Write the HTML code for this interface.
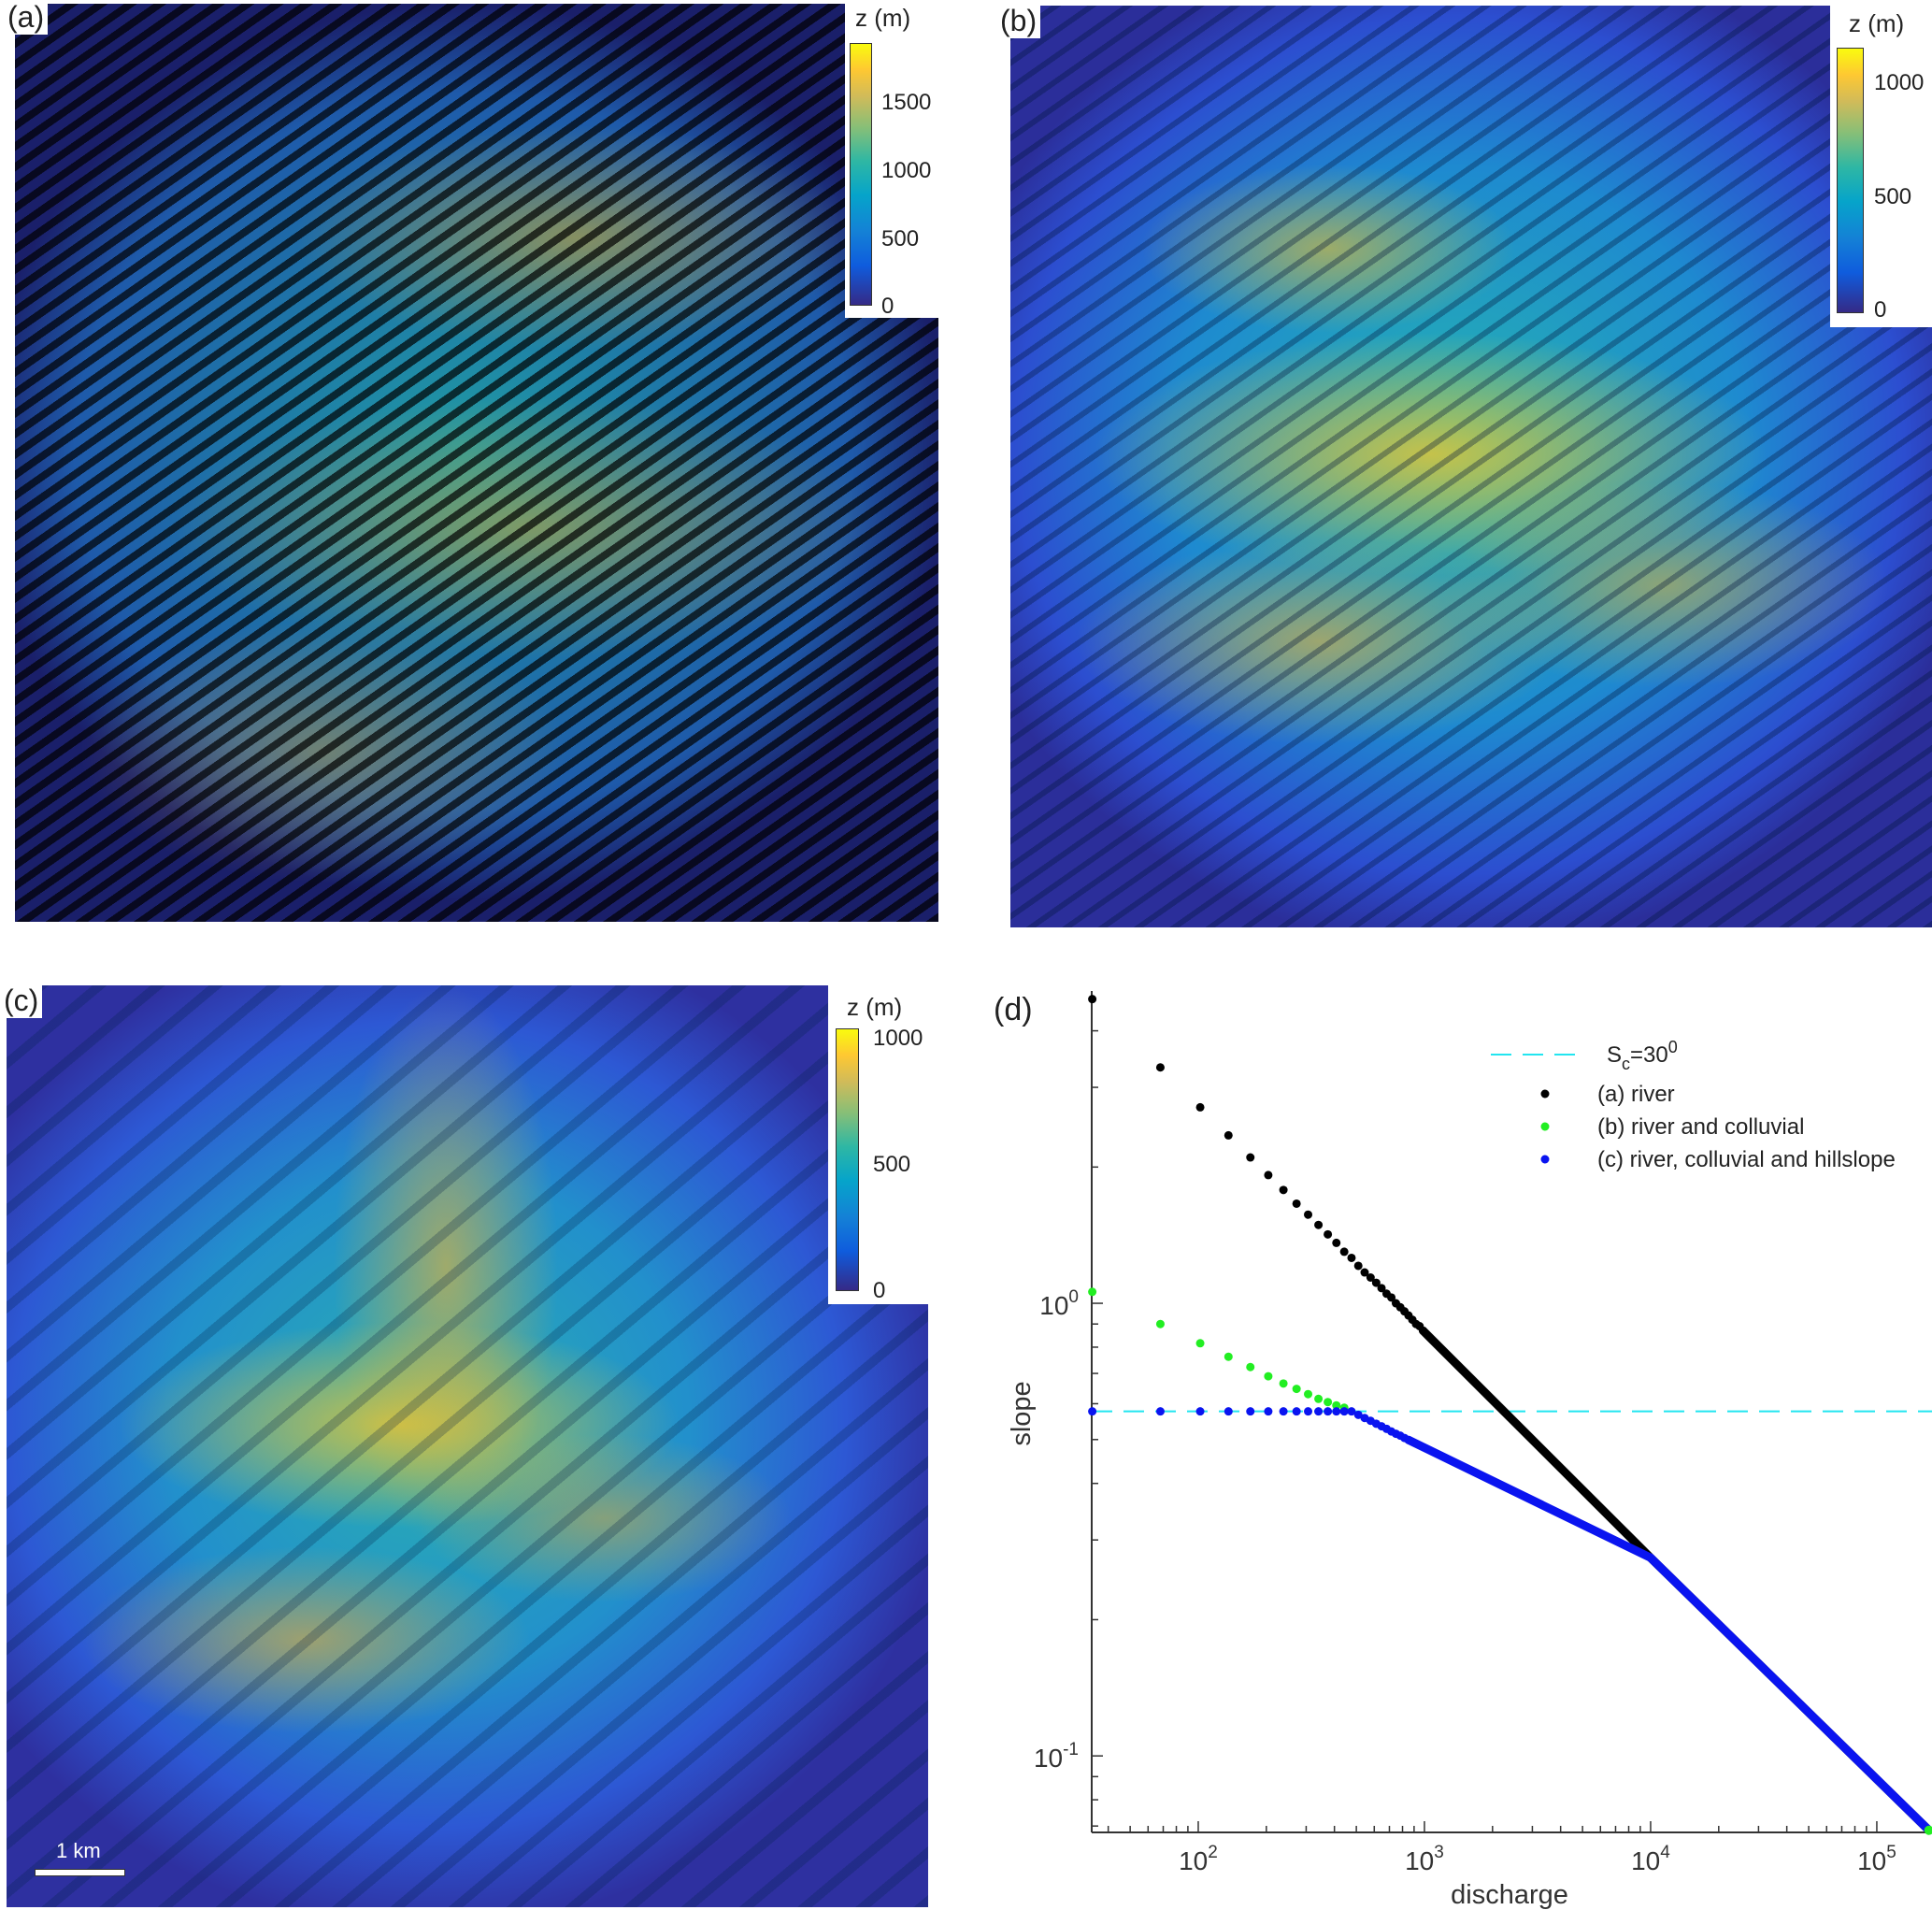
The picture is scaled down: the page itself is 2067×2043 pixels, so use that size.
<!DOCTYPE html>
<html><head><meta charset="utf-8">
<style>
html,body{margin:0;padding:0;background:#fff;}
body{width:2067px;height:2043px;position:relative;overflow:hidden;font-family:"Liberation Sans",Arial,sans-serif;}
.map{position:absolute;}
.cbox{position:absolute;background:#fff;}
.cbar{position:absolute;background:linear-gradient(to top,#352a87 0%,#0f5cdd 15%,#1481d6 28%,#06a4ca 42%,#2eb7a4 55%,#87bf77 68%,#d1bb59 80%,#fec832 90%,#f9fb0e 100%);border:1px solid #333;box-sizing:border-box;}
.lbl{position:absolute;font-size:24px;color:#222;}
.plab{position:absolute;background:#fff;font-size:32px;color:#222;padding:0 4px;}
</style></head><body>

<!-- Panel a -->
<div class="map" style="left:16px;top:4px;width:988px;height:982px;
background:
repeating-linear-gradient(-35deg,rgba(0,0,0,0.7) 0 8px,rgba(0,0,0,0) 8px 18px),
radial-gradient(ellipse 300px 120px at 600px 250px,rgba(220,170,40,0.55),rgba(0,0,0,0)),
radial-gradient(ellipse 380px 140px at 550px 560px,rgba(220,170,40,0.5),rgba(0,0,0,0)),
radial-gradient(ellipse 260px 140px at 330px 800px,rgba(210,170,50,0.45),rgba(0,0,0,0)),
radial-gradient(ellipse 520px 480px at 480px 480px,#1f9aa4,#1e5aaa 80%,#1a1f6a);"></div>
<div class="cbox" style="left:904px;top:0;width:100px;height:340px;"></div>
<div class="cbar" style="left:909px;top:46px;width:24px;height:281px;"></div>
<div class="lbl" style="left:915px;top:4px;font-size:26px;">z (m)</div>
<div class="lbl" style="left:943px;top:96px;">1500</div>
<div class="lbl" style="left:943px;top:169px;">1000</div>
<div class="lbl" style="left:943px;top:242px;">500</div>
<div class="lbl" style="left:943px;top:314px;">0</div>
<div class="plab" style="left:4px;top:0;">(a)</div>

<!-- Panel b -->
<div class="map" style="left:1081px;top:6px;width:986px;height:986px;
background:
repeating-linear-gradient(-35deg,rgba(0,20,60,0.35) 0 6px,rgba(0,0,0,0) 6px 22px),
radial-gradient(ellipse 200px 90px at 340px 260px,rgba(240,190,40,0.6),rgba(0,0,0,0)),
radial-gradient(ellipse 360px 130px at 450px 480px,rgba(250,200,40,0.75),rgba(0,0,0,0)),
radial-gradient(ellipse 260px 110px at 330px 680px,rgba(240,180,50,0.6),rgba(0,0,0,0)),
radial-gradient(ellipse 240px 110px at 700px 620px,rgba(230,180,50,0.55),rgba(0,0,0,0)),
radial-gradient(ellipse 560px 540px at 480px 470px,#25b4b0,#1e8ad0 55%,#2c4ed0 85%,#2b2e9a);"></div>
<div class="cbox" style="left:1958px;top:0;width:109px;height:350px;"></div>
<div class="cbar" style="left:1965px;top:51px;width:29px;height:284px;"></div>
<div class="lbl" style="left:1978px;top:10px;font-size:26px;">z (m)</div>
<div class="lbl" style="left:2005px;top:75px;">1000</div>
<div class="lbl" style="left:2005px;top:197px;">500</div>
<div class="lbl" style="left:2005px;top:318px;">0</div>
<div class="plab" style="left:1066px;top:4px;">(b)</div>

<!-- Panel c -->
<div class="map" style="left:7px;top:1054px;width:986px;height:986px;
background:
repeating-linear-gradient(-40deg,rgba(0,30,70,0.25) 0 10px,rgba(0,0,0,0) 10px 40px),
radial-gradient(ellipse 120px 300px at 470px 300px,rgba(240,180,50,0.6),rgba(0,0,0,0)),
radial-gradient(ellipse 300px 110px at 420px 470px,rgba(250,200,40,0.75),rgba(0,0,0,0)),
radial-gradient(ellipse 240px 100px at 320px 700px,rgba(240,170,50,0.6),rgba(0,0,0,0)),
radial-gradient(ellipse 200px 90px at 640px 570px,rgba(230,170,50,0.5),rgba(0,0,0,0)),
radial-gradient(ellipse 560px 540px at 450px 470px,#2ab0b0,#2290cc 50%,#2d58d4 80%,#2e30a0);"></div>
<div class="cbox" style="left:886px;top:1054px;width:107px;height:341px;"></div>
<div class="cbar" style="left:894px;top:1100px;width:25px;height:281px;"></div>
<div class="lbl" style="left:906px;top:1062px;font-size:26px;">z (m)</div>
<div class="lbl" style="left:934px;top:1097px;">1000</div>
<div class="lbl" style="left:934px;top:1232px;">500</div>
<div class="lbl" style="left:934px;top:1367px;">0</div>
<div class="plab" style="left:0;top:1052px;">(c)</div>
<div style="position:absolute;left:37px;top:1999px;width:97px;height:8px;background:#fff;border:1px solid #333;box-sizing:border-box;"></div>
<div class="lbl" style="left:60px;top:1967px;color:#fff;font-size:22px;">1 km</div>

<!-- Panel d -->
<svg id="chartd" style="position:absolute;left:0;top:0;" width="2067" height="2043"></svg>

<script>
const qBlack=[34,68,102,136,170,204,238,272,306,340,374,408,442,476,510,544,578,612,646,680,714,748,782,816,850,884,918,952,986];
const sBlack=[4.70,3.32,2.71,2.35,2.10,1.92,1.78,1.66,1.57,1.49,1.42,1.36,1.30,1.26,1.21,1.17,1.14,1.11,1.08,1.05,1.03,1.00,0.98,0.96,0.94,0.92,0.90,0.89,0.87];
const qBlackLine=[986,10000,170000];
const sBlackLine=[0.87,0.274,0.0685];
const qGreen=[34,68,102,136,170,204,238,272,306,340,374,408,442];
const sGreen=[1.06,0.90,0.816,0.762,0.723,0.69,0.665,0.647,0.63,0.615,0.605,0.595,0.588];
const qBlue=[34,68,102,136,170,204,238,272,306,340,374,408,442,476,510,544,578,612,646,680,714,748,782,816,850];
const sBlue=[0.577,0.577,0.577,0.577,0.577,0.577,0.577,0.577,0.577,0.577,0.577,0.577,0.577,0.577,0.567,0.558,0.550,0.542,0.535,0.528,0.521,0.515,0.510,0.504,0.499];
const qBlueLine=[850,10000,170000];
const sBlueLine=[0.499,0.274,0.0685];
const sCritical=0.577;
const xTickExp=[2,3,4,5];
const yTickExp=[0,-1];

const X0=1168,X1=2067,Y0=1060,Y1=1960;
const xMinL=1.529,xMaxL=5.244,yMinL=-1.169,yMaxL=0.69;
const xs=q=>X0+(Math.log10(q)-xMinL)/(xMaxL-xMinL)*(X1-X0);
const ys=s=>Y1-(Math.log10(s)-yMinL)/(yMaxL-yMinL)*(Y1-Y0);
const NS='http://www.w3.org/2000/svg';
const svg=document.getElementById('chartd');
function mk(tag,attrs,parent){const e=document.createElementNS(NS,tag);for(const k in attrs)e.setAttribute(k,attrs[k]);(parent||svg).appendChild(e);return e;}

let ax=mk('line',{x1:X0,y1:Y0,x2:X0,y2:Y1,stroke:'#333','stroke-width':2});


let bx=mk('line',{x1:X0,y1:Y1,x2:X1,y2:Y1,stroke:'#333','stroke-width':2});



for(let e=1;e<=5;e++){for(let m=1;m<10;m++){const q=m*Math.pow(10,e);const x=xs(q);if(x<X0||x>X1)continue;
 const t=mk('line',{x1:x,y1:Y1,x2:x,y2:Y1-(m==1?12:7),stroke:'#333','stroke-width':1.5});
 
 }}
xTickExp.forEach(e=>{const x=xs(Math.pow(10,e));
 const t=mk('text',{x:x,y:Y1+40,'text-anchor':'middle','font-size':28,fill:'#333'});
 
 
 t.innerHTML='10<tspan dy="-13" font-size="19">'+e+'</tspan>';});
for(let e=-2;e<=0;e++){for(let m=1;m<10;m++){const s=m*Math.pow(10,e);const y=ys(s);if(y<Y0||y>Y1)continue;
 const t=mk('line',{x1:X0,y1:y,x2:X0+(m==1?12:7),y2:y,stroke:'#333','stroke-width':1.5});
 
 }}
yTickExp.forEach(e=>{const y=ys(Math.pow(10,e));
 const t=mk('text',{x:X0-14,y:y+12,'text-anchor':'end','font-size':28,fill:'#333'});
 
 
 t.innerHTML='10<tspan dy="-13" font-size="19">'+e+'</tspan>';});

let xl=mk('text',{x:1615,y:2036,'text-anchor':'middle','font-size':29,fill:'#333'});xl.textContent='discharge';


let yl=mk('text',{x:1102,y:1512,'text-anchor':'middle','font-size':29,fill:'#333',transform:'rotate(-90 1102 1512)'});yl.textContent='slope';


let pl=mk('text',{x:1063,y:1091,'font-size':34,fill:'#222'});pl.textContent='(d)';



let cl=mk('line',{x1:X0,y1:ys(sCritical),x2:X1,y2:ys(sCritical),stroke:'#22e5f0','stroke-width':2,'stroke-dasharray':'22,12'});



function line(qa,sa,col,name){const p=mk('polyline',{points:qa.map((q,i)=>xs(q)+','+ys(sa[i])).join(' '),fill:'none',stroke:col,'stroke-width':9,'stroke-linecap':'round'});
 
 }
function dots(qa,sa,col,name){qa.forEach((q,i)=>{const c=mk('circle',{cx:xs(q),cy:ys(sa[i]),r:4.5,fill:col});
 
 });}
line(qBlackLine,sBlackLine,'#000','river-series-line');
dots(qBlack,sBlack,'#000','river-point');
dots(qGreen,sGreen,'#22ee22','colluvial-point');
line(qBlueLine,sBlueLine,'#0a14f0','hillslope-series-line');
dots(qBlue,sBlue,'#0a14f0','hillslope-point');
let gEnd=mk('circle',{cx:xs(170000),cy:ys(0.0685),r:5,fill:'#22ee22'});



let lg=mk('g',{});


mk('line',{x1:1595,y1:1128,x2:1694,y2:1128,stroke:'#22e5f0','stroke-width':2,'stroke-dasharray':'22,12'},lg);
let t0=mk('text',{x:1719,y:1136,'font-size':24,fill:'#222'},lg);


t0.innerHTML='S<tspan dy="8" font-size="18">c</tspan><tspan dy="-8">=30</tspan><tspan dy="-10" font-size="18">0</tspan>';
[['#000','(a) river',1170,'legend-entry-river'],['#22ee22','(b) river and colluvial',1205,'legend-entry-colluvial'],['#0a14f0','(c) river, colluvial and hillslope',1240,'legend-entry-hillslope']].forEach(d=>{
 mk('circle',{cx:1653,cy:d[2],r:4.5,fill:d[0]},lg);
 const t=mk('text',{x:1709,y:d[2]+8,'font-size':24,fill:'#222'},lg);
 
 
 t.textContent=d[1];});
</script>
</body></html>
